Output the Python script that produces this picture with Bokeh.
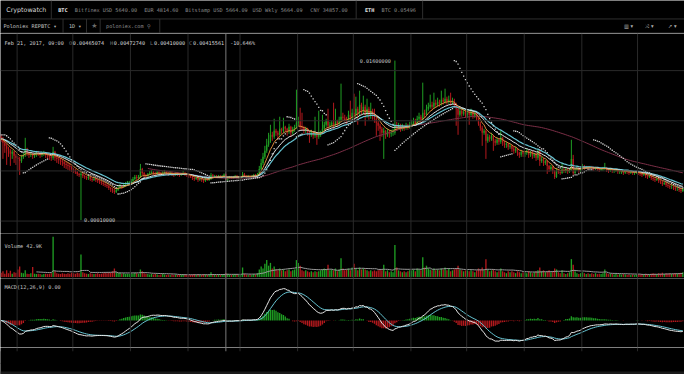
import numpy as np
import pandas as pd
from bokeh.plotting import figure
from bokeh.models import Range1d, Span, Label, ColumnDataSource, BoxAnnotation
from bokeh.layouts import column
from bokeh.embed import file_html
from bokeh.resources import INLINE
from bokeh.core.properties import value

# ---------------- data (prices in units of 1e-4 BTC, volume in thousands) ----------------
FIRST_DAY = "2016-10-23 09:00"
FIRST_OPEN = 84

CLOSE = [
    82, 78, 75, 72, 70, 67, 69, 65, 63,
    62, 60, 64, 66, 72, 68, 66, 67, 65, 66, 68, 67, 66, 67, 68, 66, 65, 64, 63, 69, 63, 62, 61, 60, 59, 57, 56, 55, 54, 52,
    50, 49, 47, 46, 47, 45, 44, 43, 44, 42, 41, 42, 41, 40, 39, 38, 37, 36, 35, 33, 32, 30, 29, 31, 33, 35, 34, 36, 37, 38, 38,
    40, 42, 44, 43, 44, 52, 48, 46, 45, 47, 48, 49, 48, 47, 49, 48, 47, 48, 49, 48, 47, 48, 47, 46, 48, 47, 46, 47, 48, 47, 46,
    45, 44, 43, 42, 43, 41, 42, 41, 40, 42, 41, 42, 46, 44, 45, 44, 45, 44, 45, 46.5074, 41.5561, 43, 44, 43, 44, 45, 44, 44,
    44, 47, 45, 44, 45, 44, 45, 46, 45, 47, 52, 58, 64, 70, 76, 80, 86, 84, 90, 88, 86, 92, 90, 94, 92, 89, 94, 88, 92, 94, 98,
    100, 94, 93, 90, 92, 88, 86, 89, 85, 87, 84, 86, 88, 92, 96, 100, 95, 96, 98, 95, 100, 97, 101, 104, 103, 102, 100, 106, 103, 108,
    106, 112, 108, 116, 110, 114, 106, 112, 105, 110, 106, 102, 98, 95, 92, 88, 90, 86, 89, 87, 88, 88, 96, 93, 95, 92, 94, 93, 95, 94, 96,
    98, 100, 97, 102, 104, 101, 108, 106, 112, 114, 116, 114, 118, 116, 119, 117, 121, 119, 122, 119, 121, 118, 120, 116, 112, 106, 110, 107, 109, 106,
    108, 106, 109, 105, 107, 102, 97, 93, 88, 90, 80, 84, 82, 85, 80, 78, 81, 79, 83, 78, 76, 77, 74, 75, 72, 70, 72, 68, 66, 69, 67,
    68, 70, 66, 69, 65, 67, 63, 70, 60, 62, 58, 60, 55, 52, 54, 50, 44, 51, 49, 48, 51, 50, 52, 49, 51, 62, 48, 51, 53, 50, 52,
    55, 53, 54, 53, 54, 53, 52, 53, 52, 51, 52, 52, 53, 51, 50, 52, 50, 50, 51, 49, 49, 49, 48, 50, 49, 48, 49, 48, 48, 49,
    48, 47, 46, 47, 45, 44, 45, 43, 42, 41, 42, 40, 39, 37, 38, 36, 35, 34, 34, 33, 32, 32, 31, 30, 32,
]

HIGH = [
    86, 84, 80, 77, 74, 72, 71, 70, 67,
    65, 64, 66, 68, 83, 73, 69, 69, 68, 68, 70, 70, 68, 69, 70, 69, 67, 66, 66, 74, 70, 65, 64, 63, 62, 60, 59, 58, 57, 55,
    53, 52, 50, 48, 49, 48, 46, 45, 46, 45, 43, 44, 43, 42, 41, 40, 39, 38, 37, 36, 34, 33, 32, 33, 35, 37, 36, 38, 39, 40, 40,
    42, 44, 46, 46, 46, 57, 53, 49, 47, 48, 50, 51, 50, 49, 50, 50, 49, 50, 51, 50, 49, 50, 49, 48, 49, 49, 48, 48, 50, 49, 48,
    47, 46, 45, 44, 44, 44, 43, 43, 42, 43, 43, 43, 48, 47, 46, 46, 46, 46, 46, 47.5, 47.274, 44, 45, 45, 45, 46, 46, 45,
    45, 49, 48, 46, 46, 46, 46, 47, 47, 48, 55, 62, 68, 75, 82, 88, 96, 89, 102, 92, 90, 104, 93, 103, 95, 93, 97, 95, 94, 96, 131,
    104, 113, 108, 95, 94, 93, 90, 91, 90, 104, 89, 110, 90, 106, 99, 102, 112, 99, 100, 118, 112, 101, 104, 137, 108, 106, 104, 110, 120, 112,
    127, 124, 114, 130, 118, 125, 116, 122, 114, 118, 112, 112, 104, 100, 97, 94, 93, 91, 92, 91, 91, 92, 160, 99, 98, 97, 97, 96, 98, 97, 99,
    101, 103, 102, 105, 108, 106, 138, 111, 116, 118, 126, 119, 128, 121, 123, 121, 130, 123, 132, 124, 125, 128, 123, 122, 118, 114, 113, 112, 112, 111,
    111, 110, 112, 110, 109, 108, 103, 99, 95, 92, 91, 87, 86, 88, 86, 82, 83, 82, 90, 84, 80, 79, 78, 77, 76, 74, 74, 73, 69, 71, 70,
    70, 72, 71, 70, 70, 68, 68, 72, 72, 64, 63, 61, 61, 56, 56, 55, 51, 53, 52, 50, 58, 53, 54, 53, 53, 81, 66, 53, 55, 54, 54,
    57, 56, 55, 55, 55, 55, 54, 54, 54, 53, 53, 54, 58, 54, 52, 53, 53, 52, 52, 52, 51, 50, 50, 51, 51, 50, 50, 50, 49, 50,
    50, 49, 48, 48, 48, 46, 46, 46, 44, 43, 43, 43, 41, 40, 39, 39, 37, 36, 36, 35, 34, 34, 33, 32, 33,
]

LOW = [
    79, 62, 68, 56, 64, 55, 62, 58, 56,
    50, 46, 58, 62, 64, 65, 63, 64, 62, 63, 64, 65, 63, 64, 65, 63, 62, 61, 60, 61, 60, 58, 57, 56, 55, 53, 52, 51, 50, 49,
    48, 47, 45, 44, 1, 43, 42, 41, 41, 40, 39, 40, 39, 38, 37, 36, 35, 34, 33, 31, 29, 28, 27, 28, 30, 32, 32, 33, 34, 35, 36,
    36, 39, 41, 41, 42, 43, 46, 44, 43, 44, 46, 47, 46, 45, 46, 46, 45, 46, 47, 46, 45, 46, 45, 44, 45, 45, 44, 45, 46, 45, 44,
    43, 43, 41, 40, 41, 39, 40, 39, 38, 39, 40, 40, 41, 43, 43, 43, 43, 43, 43, 44, 41.0, 40, 42, 42, 42, 43, 43, 42,
    42, 43, 44, 43, 43, 43, 43, 44, 44, 44, 46, 50, 56, 62, 68, 74, 78, 80, 82, 85, 82, 85, 87, 88, 89, 85, 87, 84, 86, 89, 92,
    95, 91, 90, 87, 88, 85, 78, 84, 82, 83, 76, 82, 84, 87, 90, 94, 92, 93, 94, 92, 94, 94, 96, 99, 100, 99, 97, 99, 100, 101,
    100, 102, 96, 104, 106, 106, 95, 103, 101, 102, 101, 98, 85, 90, 80, 84, 62, 82, 84, 83, 84, 85, 86, 90, 91, 89, 90, 90, 91, 91, 92,
    94, 96, 95, 96, 100, 99, 100, 103, 105, 110, 112, 111, 112, 113, 114, 114, 115, 116, 117, 116, 117, 115, 116, 113, 95, 86, 104, 104, 105, 103,
    103, 96, 104, 102, 103, 100, 95, 90, 75, 86, 62, 78, 79, 80, 70, 75, 76, 76, 77, 75, 73, 73, 71, 72, 69, 67, 68, 65, 63, 64, 64,
    64, 66, 63, 64, 62, 63, 60, 61, 55, 58, 55, 56, 47, 49, 50, 47, 42, 43, 47, 46, 47, 48, 48, 47, 48, 50, 46, 47, 50, 48, 49,
    51, 51, 52, 51, 52, 51, 50, 51, 50, 49, 50, 50, 51, 49, 48, 49, 48, 48, 49, 47, 47, 47, 46, 47, 47, 46, 47, 46, 46, 47,
    46, 45, 44, 45, 43, 42, 43, 41, 40, 39, 40, 38, 37, 35, 36, 34, 33, 32, 32, 31, 30, 30, 29, 28, 29,
]

VOLUME = [
    45, 60, 35, 70, 40, 65, 35, 50, 45,
    80, 110, 45, 40, 70, 35, 30, 40, 105, 35, 30, 35, 30, 25, 30, 35, 30, 35, 40, 430, 60, 40, 35, 30, 40, 35, 30, 40, 35, 45,
    40, 35, 45, 40, 240, 50, 40, 35, 30, 40, 35, 30, 35, 40, 30, 35, 40, 45, 40, 50, 45, 60, 90, 50, 40, 45, 35, 40, 30, 35, 30,
    40, 35, 45, 40, 35, 80, 60, 40, 35, 30, 25, 30, 25, 30, 25, 20, 25, 30, 25, 20, 25, 20, 25, 20, 25, 20, 25, 20, 25, 20, 25,
    25, 20, 25, 30, 20, 30, 25, 20, 30, 25, 20, 25, 50, 30, 25, 20, 25, 20, 25, 30, 42.9, 35, 25, 20, 25, 30, 25, 20,
    25, 100, 35, 25, 20, 25, 20, 30, 25, 40, 80, 110, 90, 140, 180, 120, 150, 90, 110, 80, 70, 90, 70, 80, 60, 70, 80, 60, 70, 80, 180,
    150, 120, 70, 60, 70, 60, 50, 60, 50, 60, 55, 60, 70, 80, 90, 80, 130, 70, 80, 70, 90, 60, 80, 200, 90, 70, 80, 90, 70, 100,
    140, 90, 70, 100, 80, 90, 80, 70, 60, 70, 60, 70, 60, 70, 80, 70, 130, 60, 70, 50, 60, 50, 340, 100, 70, 60, 50, 60, 50, 60, 70,
    70, 80, 60, 90, 80, 70, 210, 100, 120, 90, 80, 70, 90, 70, 80, 70, 90, 80, 100, 70, 90, 60, 70, 80, 90, 120, 80, 70, 60, 70,
    70, 60, 70, 60, 50, 70, 90, 80, 100, 70, 190, 80, 60, 70, 80, 60, 50, 60, 90, 60, 50, 40, 60, 50, 60, 50, 40, 60, 50, 40, 50,
    50, 40, 60, 50, 40, 50, 60, 70, 100, 60, 70, 50, 60, 70, 50, 60, 90, 80, 50, 40, 70, 40, 30, 40, 50, 190, 130, 60, 40, 30, 40,
    50, 40, 30, 40, 30, 40, 30, 40, 30, 35, 30, 40, 80, 40, 30, 35, 30, 25, 30, 25, 30, 25, 30, 25, 20, 25, 20, 25, 20, 25,
    30, 25, 30, 25, 35, 30, 25, 35, 40, 35, 30, 40, 35, 45, 30, 40, 35, 40, 30, 35, 40, 35, 40, 45, 50,
]

PRICE_GRID = [0.0, 0.005, 0.010, 0.015]
TICK_DATES = ["2016-11-01", "2016-12-01", "2017-01-01", "2017-02-01", "2017-04-01", "2017-05-01",
              "2017-06-01", "2017-07-01", "2017-08-01", "2017-09-01", "2017-10-01"]
TICK_LABELS = ["Nov", "Dec", "2017", "Feb", "Apr", "May", "Jun", "Jul", "Aug", "Sep", "Oct"]
GRID_DATES = ["2016-11-01", "2016-12-01", "2017-01-01", "2017-02-01", "2017-03-01", "2017-04-01", "2017-05-01",
              "2017-06-01", "2017-07-01", "2017-08-01", "2017-09-01", "2017-10-01"]
CROSS_DATE = "2017-02-21 09:00"
EVENT_DATES = ["2016-11-09", "2017-08-01", "2017-08-21", "2017-09-10", "2017-09-14", "2017-09-16"]
EVENT_SIZES = [6, 6, 3, 6, 6, 6]

UNIT = 1e-4
DAY_MS = 86400000.0


def ms(s):
    return pd.Timestamp(s).value / 1e6


# ---------------- derived series ----------------
close = np.array(CLOSE, float) * UNIT
high = np.array(HIGH, float) * UNIT
low = np.array(LOW, float) * UNIT
opn = np.concatenate([[FIRST_OPEN * UNIT], close[:-1]])
vol = np.array(VOLUME, float)
dates = pd.date_range(FIRST_DAY, periods=len(close), freq="D")


def ema(a, n):
    out = np.empty_like(a)
    k = 2.0 / (n + 1)
    out[0] = a[0]
    for i in range(1, len(a)):
        out[i] = a[i] * k + out[i - 1] * (1 - k)
    return out


def sma(a, n):
    return pd.Series(a).rolling(n).mean().to_numpy()


def psar(h, l, step=0.02, mx=0.2):
    n = len(h)
    out = np.zeros(n)
    bull = False
    af = step
    ep = l[0]
    out[0] = h[0]
    for i in range(1, n):
        s = out[i - 1] + af * (ep - out[i - 1])
        if bull:
            s = min(s, l[i - 1], l[max(i - 2, 0)])
            if l[i] < s:
                bull, s, ep, af = False, ep, l[i], step
            elif h[i] > ep:
                ep, af = h[i], min(af + step, mx)
        else:
            s = max(s, h[i - 1], h[max(i - 2, 0)])
            if h[i] > s:
                bull, s, ep, af = True, ep, h[i], step
            elif l[i] < ep:
                ep, af = l[i], min(af + step, mx)
        out[i] = s
    return out


GREEN = "#1f9e23"
RED = "#b3191d"
BG = "#000000"
GRID = "#2a2a2a"
MONO = "DejaVu Sans Mono"

up = close >= opn
colors = np.where(up, GREEN, RED)
body_lo = np.minimum(opn, close)
sar_low = np.maximum(low, body_lo * 0.8)   # the one-print 0.0001 wick does not drive the SAR
src = ColumnDataSource(dict(
    x=dates, o=opn, h=high, l=low, c=close,
    top=np.maximum(opn, close), bot=body_lo, color=colors,
    vol=vol, volma=sma(vol, 20),
    e1=ema(close, 7), e2=ema(close, 21), e3=ema(close, 14), s1=sma(close, 80), sar=psar(high, sar_low),
))
macd = ema(close, 12) - ema(close, 26)
sig = ema(macd, 9)
hist = macd - sig
hcol = np.where(hist >= 0, GREEN, RED)
msrc = ColumnDataSource(dict(x=dates, macd=macd, sig=sig, hist=hist, color=hcol))

W = 684
xr = Range1d(ms("2016-10-23 01:20"), ms("2017-10-26 06:40"))


def pane(h, y0, y1):
    f = figure(width=W, height=h, x_range=xr, y_range=Range1d(y0, y1), output_backend="svg",
               toolbar_location=None, x_axis_location=None, y_axis_location=None, title=None,
               background_fill_color=BG, border_fill_color=BG, outline_line_color=None, min_border=0)
    f.grid.visible = False
    for d in GRID_DATES:
        f.add_layout(Span(location=ms(d), dimension="height", line_color=GRID, line_width=1))
    f.add_layout(Span(location=ms(CROSS_DATE), dimension="height", line_color="#7a7a7a", line_width=1))
    return f


# ---------------- header ----------------
hdr = figure(width=W, height=33, x_range=Range1d(0, 700), y_range=Range1d(34, 0), output_backend="svg",
             toolbar_location=None, x_axis_location=None, y_axis_location=None, title=None,
             background_fill_color=BG, border_fill_color=BG, outline_line_color=None, min_border=0)
hdr.grid.visible = False


def htext(x, y, t, color="#8a8a8a", size="5.2px", bold=False, font=MONO):
    hdr.add_layout(Label(x=x, y=y, text=t, text_color=color, text_font_size=size, text_font=font,
                         text_font_style="bold" if bold else "normal", text_baseline="middle"))


htext(6, 9.5, "Cryptowatch", "#d8d8d8", "6.3px", font="DejaVu Sans")
htext(59, 9.5, "BTC", "#e8e8e8", bold=True)
htext(76, 9.5, "Bitfinex USD 5640.00")
htext(147, 9.5, "EUR 4814.60")
htext(189, 9.5, "Bitstamp USD 5664.09")
htext(258, 9.5, "USD Wkly 5664.09")
htext(317, 9.5, "CNY 34857.00")
htext(373, 9.5, "ETH", "#e8e8e8", bold=True)
htext(390, 9.5, "BTC 0.05496")
htext(3, 26.5, "Poloniex REPBTC ▾", "#c0c0c0")
htext(70, 26.5, "1D ▾", "#c0c0c0")
htext(93, 26.5, "★", "#6a6a6a", "7px", font="DejaVu Sans")
htext(108, 26.5, "poloniex.com ⚲", "#8a8a8a")
htext(638, 26.5, "▥ ▾", "#b0b0b0", font="DejaVu Sans")
htext(660, 26.5, "⤨ ▾", "#b0b0b0", font="DejaVu Sans")
htext(683, 26.5, "↗ ▾", "#b0b0b0", font="DejaVu Sans")
hdr.segment(x0=[52, 364, 432, 64, 88, 102, 163], y0=[0, 0, 0, 19, 19, 19, 19],
            x1=[52, 364, 432, 64, 88, 102, 163], y1=[19, 19, 19, 34, 34, 34, 34],
            line_color="#2e2e2e", line_width=1)
hdr.segment(x0=[0, 0], y0=[19, 33.5], x1=[700, 700], y1=[19, 33.5], line_color="#2e2e2e", line_width=1)

# ---------------- price pane ----------------
price = pane(200, -0.00124, 0.0187)
for g in PRICE_GRID:
    price.add_layout(Span(location=g, dimension="width", line_color=GRID, line_width=1))
price.segment(x0="x", y0="l", x1="x", y1="h", line_color="color", line_width=1, source=src)
price.vbar(x="x", width=0.72 * DAY_MS, top="top", bottom="bot", fill_color="color", line_color=None, source=src)
price.line("x", "s1", line_color="#7b2f47", line_width=1, source=src)
price.line("x", "e2", line_color="#66c4d2", line_width=1.2, source=src)
price.line("x", "e3", line_color="#e4e4e4", line_width=1, source=src)
price.line("x", "e1", line_color="#d98a3a", line_width=1, source=src)
price.scatter("x", "sar", marker="square", size=1.3, fill_color="#d0d0d0", line_color=None, source=src)

imax = int(np.argmax(high))
imin = int(np.argmin(low))
price.add_layout(Label(x=dates[imax].value / 1e6, y=high[imax], text=f"{high[imax]:.8f}", text_align="right",
                       text_baseline="middle", x_offset=-4, text_color="#c8c8c8", text_font_size="5.2px",
                       text_font=MONO))
price.add_layout(Label(x=dates[imin].value / 1e6, y=low[imin], text=f"{low[imin]:.8f}", text_align="left",
                       text_baseline="middle", x_offset=3, text_color="#c8c8c8", text_font_size="5.2px",
                       text_font=MONO))

ci = int(np.where(dates == pd.Timestamp(CROSS_DATE))[0][0])
chg = (close[ci] - opn[ci]) / opn[ci] * 100
info = [(4, "Feb 21, 2017, 09:00", "#d0d0d0"),
        (70, "O", "#777777"), (74, f"{opn[ci]:.8f}", "#d8d8d8"),
        (112, "H", "#777777"), (116, f"{high[ci]:.8f}", "#d8d8d8"),
        (153, "L", "#777777"), (157, f"{low[ci]:.8f}", "#d8d8d8"),
        (193, "C", "#777777"), (197, f"{close[ci]:.8f}", "#d8d8d8"),
        (235, f"{chg:.3f}%", "#d8d8d8")]
for xx, t, c in info:
    price.add_layout(Label(x=xx * W / 700, y=191, x_units="screen", y_units="screen", text=t, text_color=c,
                           text_font_size="5.2px", text_font=MONO, text_baseline="middle"))

# ---------------- volume pane ----------------
vp = pane(45, -17, 464)
vp.add_layout(Span(location=464, dimension="width", line_color="#262626", line_width=1))
vp.vbar(x="x", width=0.72 * DAY_MS, top="vol", bottom=0, fill_color="color", line_color=None, source=src)
vp.line("x", "volma", line_color="#9a9a9a", line_width=1, source=src)
vp.add_layout(Label(x=4, y=33, x_units="screen", y_units="screen", text=f"Volume {vol[ci]:.1f}K",
                    text_color="#c8c8c8", text_font_size="5.2px", text_font=MONO, text_baseline="middle"))

# ---------------- MACD pane ----------------
lo = min(macd.min(), sig.min(), hist.min())
hi = max(macd.max(), sig.max(), hist.max())
pad = (hi - lo) * 0.12
mp = pane(69, lo - pad, hi + pad * 1.6)
mp.add_layout(Span(location=hi + pad * 1.6, dimension="width", line_color="#262626", line_width=1))
mp.vbar(x="x", width=0.72 * DAY_MS, top="hist", bottom=0, fill_color="color", line_color=None, source=msrc)
mp.line("x", "sig", line_color="#66c4d2", line_width=1, source=msrc)
mp.line("x", "macd", line_color="#e6e6e6", line_width=1, source=msrc)
mp.add_layout(Label(x=4, y=61, x_units="screen", y_units="screen", text=f"MACD(12,26,9) {abs(macd[ci]):.2f}",
                    text_color="#c8c8c8", text_font_size="5.2px", text_font=MONO, text_baseline="middle"))

# ---------------- time axis + event strip ----------------
ax = figure(width=W, height=27, x_range=xr, y_range=Range1d(28, 0), output_backend="svg",
            toolbar_location=None, x_axis_location=None, y_axis_location=None, title=None,
            background_fill_color=BG, border_fill_color=BG, outline_line_color=None, min_border=0)
ax.grid.visible = False
for d in GRID_DATES:
    ax.add_layout(Span(location=ms(d), dimension="height", line_color=GRID, line_width=1))
ax.add_layout(Span(location=ms(CROSS_DATE), dimension="height", line_color="#7a7a7a", line_width=1))
ax.add_layout(BoxAnnotation(top=4, bottom=28, fill_color=BG, fill_alpha=1, line_color=None))
ax.add_layout(BoxAnnotation(top=25, bottom=28, fill_color="#1a1a1a", fill_alpha=1, line_color=None))
tx = [ms(d) for d in TICK_DATES]
ax.text(x=tx, y=[10] * len(tx), text=TICK_LABELS, text_align="center", text_baseline="middle",
        text_color="#9a9a9a", text_font_size="5.2px", text_font=value(MONO))
ax.segment(x0=tx, y0=[15.6] * len(tx), x1=tx, y1=[16.6] * len(tx), line_color="#8a8a8a", line_width=1)
ax.segment(x0=[xr.start], y0=[16.5], x1=[xr.end], y1=[16.5], line_color="#1c1c1c", line_width=1)
ax.text(x=[ms(CROSS_DATE)], y=[10], text=["Feb 21"], text_align="center", text_baseline="middle",
        text_color="#ffffff", text_font_size="5.4px", text_font=value(MONO), text_font_style="bold")
ax.scatter(x=[ms(d) for d in EVENT_DATES], y=[21] * len(EVENT_DATES), size=EVENT_SIZES, marker="diamond",
           fill_color=None, line_color="#d9a520", line_width=1)

layout = column(hdr, price, vp, mp, ax, spacing=0)
open("out.html", "w").write(file_html(layout, INLINE))
